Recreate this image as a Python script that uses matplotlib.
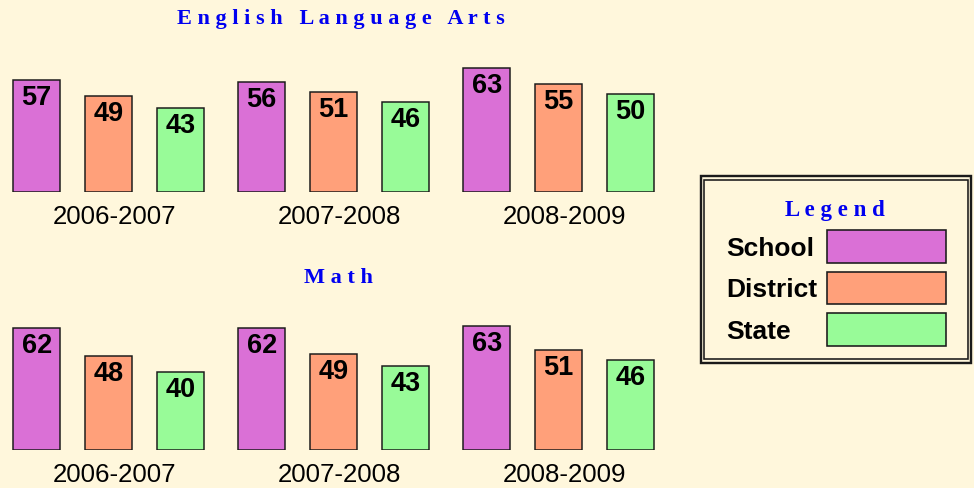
import matplotlib
matplotlib.use("Agg")
import matplotlib.pyplot as plt
from matplotlib.patches import Rectangle

# ---------------- data ----------------
years = ["2006-2007", "2007-2008", "2008-2009"]
series = ["School", "District", "State"]
ela_school = [57, 56, 63]
ela_district = [49, 51, 55]
ela_state = [43, 46, 50]
math_school = [62, 62, 63]
math_district = [48, 49, 51]
math_state = [40, 43, 46]
colors = ["#DA70D6", "#FFA07A", "#98FB98"]

# ---------------- layout helpers ----------------
W, H = 974, 488
DPI = 100
BG = "#FFF7DC"
EDGE = "#1a1a1a"
TITLE_BLUE = "#0000F0"
SANS = ["Liberation Sans", "DejaVu Sans"]
SERIF = ["Liberation Serif", "DejaVu Serif"]

fig = plt.figure(figsize=(W / DPI, H / DPI), dpi=DPI, facecolor=BG)


def px2pt(p):
    return p * 72.0 / DPI


def fx(px):
    return px / W


def fy(py):
    return 1 - py / H


SCALE = 1.97          # pixels per percentage point
AX_H = 150            # axes height in px
GROUP_PX = 225.0      # group pitch in px
FIRST_CENTER = 108.7  # px of first group centre
OFFSETS = [-72 / GROUP_PX, 0.0, 72 / GROUP_PX]
BAR_W = 47 / GROUP_PX


def spaced(s):
    return "   ".join(" ".join(w) for w in s.split(" "))


def panel(baseline_px, values, title, title_x, title_base):
    ax = fig.add_axes([0, fy(baseline_px), fx(660), AX_H / H])
    ax.set_facecolor("none")
    ax.set_xlim(-FIRST_CENTER / GROUP_PX, (660 - FIRST_CENTER) / GROUP_PX)
    ax.set_ylim(0, AX_H / SCALE)
    ax.axis("off")
    groups = list(range(len(years)))
    for s_i, vals in enumerate(values):
        xs = [g + OFFSETS[s_i] for g in groups]
        ax.bar(xs, vals, width=BAR_W, color=colors[s_i], edgecolor=EDGE,
               linewidth=px2pt(1.5), label=series[s_i])
        for x, v in zip(xs, vals):
            ax.annotate(f"{v}", (x, v), xytext=(0, px2pt(-25)),
                        textcoords="offset points", ha="center", va="baseline",
                        fontsize=19.5, fontweight="bold", family=SANS,
                        color="black", annotation_clip=False)
    for g, yr in zip(groups, years):
        ax.annotate(yr, (g, 0), xytext=(px2pt(6), px2pt(-32)),
                    textcoords="offset points", ha="center", va="baseline",
                    fontsize=18.6, family=SANS, color="black",
                    annotation_clip=False)
    fig.text(fx(title_x), fy(title_base), spaced(title), ha="center",
             va="baseline", fontsize=16, fontweight="bold", family=SERIF,
             color=TITLE_BLUE)
    return ax


panel(192.3, [ela_school, ela_district, ela_state],
      "English Language Arts", 341, 24.3)
panel(450.3, [math_school, math_district, math_state],
      "Math", 338.5, 282.7)

# ---------------- legend (custom box) ----------------
lg = fig.add_axes([0, 0, 1, 1])
lg.set_facecolor("none")
lg.set_xlim(0, W)
lg.set_ylim(H, 0)
lg.axis("off")

# double border
lg.add_patch(Rectangle((701, 176.2), 971.3 - 701, 363 - 176.2, fill=False,
                       edgecolor=EDGE, linewidth=px2pt(2.4)))
lg.add_patch(Rectangle((704, 179.7), 967.8 - 704, 359.2 - 179.7, fill=False,
                       edgecolor=EDGE, linewidth=px2pt(1.6)))

lg.text(835, 216, spaced("Legend"), ha="center", va="baseline", fontsize=16.5,
        fontweight="bold", family=SERIF, color=TITLE_BLUE)

sw_top = [230, 271.7, 313.3]
for name, c, top in zip(series, colors, sw_top):
    lg.add_patch(Rectangle((826.7, top), 945.7 - 826.7, 32.7, facecolor=c,
                           edgecolor=EDGE, linewidth=px2pt(1.6)))
    lg.text(726, top + 16.3 + 9.3, name, ha="left", va="baseline",
            fontsize=19, fontweight="bold", family=SANS, color="black")

fig.savefig("out.png", dpi=DPI, facecolor=BG)
